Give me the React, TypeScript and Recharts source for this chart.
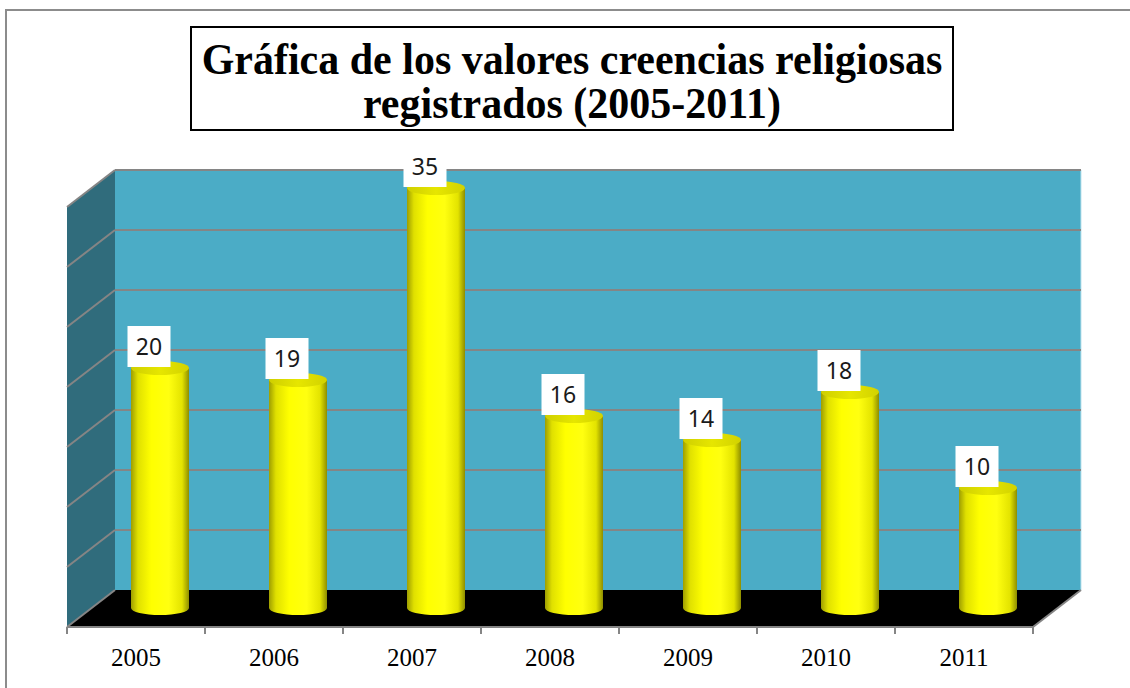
import React from 'react'
import { BarChart, Bar, XAxis, YAxis, CartesianGrid, LabelList } from 'recharts'

const years = ['2005', '2006', '2007', '2008', '2009', '2010', '2011']
const values = [20, 19, 35, 16, 14, 18, 10]
const yTicks = [0, 5, 10, 15, 20, 25, 30, 35]

const data = years.map((year, i) => ({ year, value: values[i] }))

const W = 1130
const H = 688
const MARGIN = { top: 207, right: 97, bottom: 0, left: 67 }
const BAND = (W - MARGIN.left - MARGIN.right) / years.length

// depth offsets of the fake 3d box
const DEPTH_X = 48
const DEPTH_Y = -37
const MID_X = 24
const MID_Y = -19

const GRID = '#858585'
const SERIF = 'Liberation Serif, Tinos, DejaVu Serif, Noto Serif, serif'

// back wall, side wall and floor are drawn with the first grid line
const GridLine = (props: any) => {
  const { x, y, width, height, y1, index } = props
  const bottom = y + height
  const isFloor = Math.abs(y1 - bottom) < 0.5
  return (
    <g key={`gl-${index}`}>
      {index === 0 && (
        <g>
          <rect x={x + DEPTH_X} y={y + DEPTH_Y} width={width} height={height} fill="#4BACC6" />
          <line x1={x + width + DEPTH_X} y1={y + DEPTH_Y} x2={x + width + DEPTH_X} y2={bottom + DEPTH_Y} stroke="#BEE3EE" strokeWidth={1} />
          <polygon
            points={`${x},${y} ${x + DEPTH_X},${y + DEPTH_Y} ${x + DEPTH_X},${bottom + DEPTH_Y} ${x},${bottom}`}
            fill="#306C7C"
          />
          <polygon
            points={`${x},${bottom} ${x + DEPTH_X},${bottom + DEPTH_Y} ${x + width + DEPTH_X},${bottom + DEPTH_Y} ${x + width},${bottom}`}
            fill="#000000"
          />
          <line x1={x + width} y1={bottom} x2={x + width + DEPTH_X} y2={bottom + DEPTH_Y} stroke={GRID} strokeWidth={2} />
        </g>
      )}
      {!isFloor && (
        <line x1={x + DEPTH_X} y1={y1 + DEPTH_Y} x2={x + width + DEPTH_X} y2={y1 + DEPTH_Y} stroke={GRID} strokeWidth={2} />
      )}
      <line x1={x} y1={y1} x2={x + DEPTH_X} y2={y1 + DEPTH_Y} stroke={GRID} strokeWidth={2} />
    </g>
  )
}

const Cylinder = (props: any) => {
  const { x, y, width, height } = props
  if (height == null || width == null) return null
  const rx = width / 2
  const ry = 7
  const x0 = x + MID_X
  const x1 = x0 + width
  const top = y + MID_Y
  const bot = y + height + MID_Y
  const cx = x0 + rx
  return (
    <g>
      <path
        d={`M${x0},${top} L${x0},${bot} A${rx},${ry} 0 0 0 ${x1},${bot} L${x1},${top} Z`}
        fill="url(#cylBody)"
      />
      <ellipse cx={cx} cy={top} rx={rx} ry={ry} fill="url(#cylTop)" />
    </g>
  )
}

const ValueLabel = (props: any) => {
  const { x, y, width, value } = props
  const cx = x + width / 2 + MID_X - 11
  const boxW = 43
  const boxH = 41
  const bottom = y + MID_Y - 1
  return (
    <g>
      <rect x={cx - boxW / 2} y={bottom - boxH} width={boxW} height={boxH} fill="#ffffff" />
      <text
        x={cx}
        y={bottom - boxH / 2 + 8}
        textAnchor="middle"
        fontFamily="'Noto Sans', 'Open Sans', sans-serif"
        fontSize={23}
        fill="#1a1a1a"
      >
        {value}
      </text>
    </g>
  )
}

const YearTick = (props: any) => {
  const { x, y, payload, index } = props
  const last = index === years.length - 1
  return (
    <g>
      <line x1={x - BAND / 2} y1={y} x2={x - BAND / 2} y2={y + 7} stroke={GRID} strokeWidth={2} />
      {last && <line x1={x + BAND / 2} y1={y} x2={x + BAND / 2} y2={y + 7} stroke={GRID} strokeWidth={2} />}
      <text
        x={x}
        y={y + 39}
        textAnchor="middle"
        style={{ fontFamily: SERIF }}
        fontSize={25}
        fill="#000000"
      >
        {payload.value}
      </text>
    </g>
  )
}

export default function App() {
  return (
    <div style={{ position: 'absolute', left: 0, top: 0, width: W, height: H, background: '#ffffff', overflow: 'hidden' }}>
      <div
        style={{
          position: 'absolute',
          left: 5,
          top: 9,
          width: W,
          height: H,
          borderLeft: '2px solid #8c8c8c',
          borderTop: '2px solid #8c8c8c',
        }}
      />
      <BarChart width={W} height={H} data={data} margin={MARGIN}>
        <defs>
          <linearGradient id="cylBody" x1="0" y1="0" x2="1" y2="0">
            <stop offset="0%" stopColor="#9E9E00" />
            <stop offset="12%" stopColor="#E0E000" />
            <stop offset="35%" stopColor="#FFFF00" />
            <stop offset="65%" stopColor="#FFFF10" />
            <stop offset="88%" stopColor="#E3E300" />
            <stop offset="100%" stopColor="#8E8E00" />
          </linearGradient>
          <linearGradient id="cylTop" x1="0" y1="0" x2="1" y2="0">
            <stop offset="0%" stopColor="#CFCF00" />
            <stop offset="50%" stopColor="#E6E600" />
            <stop offset="100%" stopColor="#D2D200" />
          </linearGradient>
        </defs>
        <CartesianGrid vertical={false} horizontal={(p: any) => <GridLine {...p} />} />
        <XAxis
          dataKey="year"
          height={61}
          tickLine={false}
          tickSize={0}
          tickMargin={0}
          axisLine={{ stroke: GRID, strokeWidth: 2 }}
          tick={<YearTick />}
          interval={0}
        />
        <YAxis hide domain={[0, 35]} ticks={yTicks} />
        <Bar dataKey="value" barSize={58} shape={<Cylinder />} isAnimationActive={false}>
          <LabelList dataKey="value" content={<ValueLabel />} />
        </Bar>
      </BarChart>
      <div
        style={{
          position: 'absolute',
          left: 190,
          top: 26,
          width: 760,
          height: 97,
          paddingTop: 4,
          border: '2px solid #000000',
          background: '#ffffff',
          fontFamily: SERIF,
          fontWeight: 'bold',
          fontSize: 42,
          lineHeight: '44px',
          textAlign: 'center',
          display: 'flex',
          flexDirection: 'column',
          justifyContent: 'center',
          color: '#000000',
        }}
      >
        <div style={{ transform: 'scaleY(1.05)' }}>Gráfica de los valores creencias religiosas</div>
        <div style={{ transform: 'scaleY(1.05)' }}>registrados (2005-2011)</div>
      </div>
    </div>
  )
}
